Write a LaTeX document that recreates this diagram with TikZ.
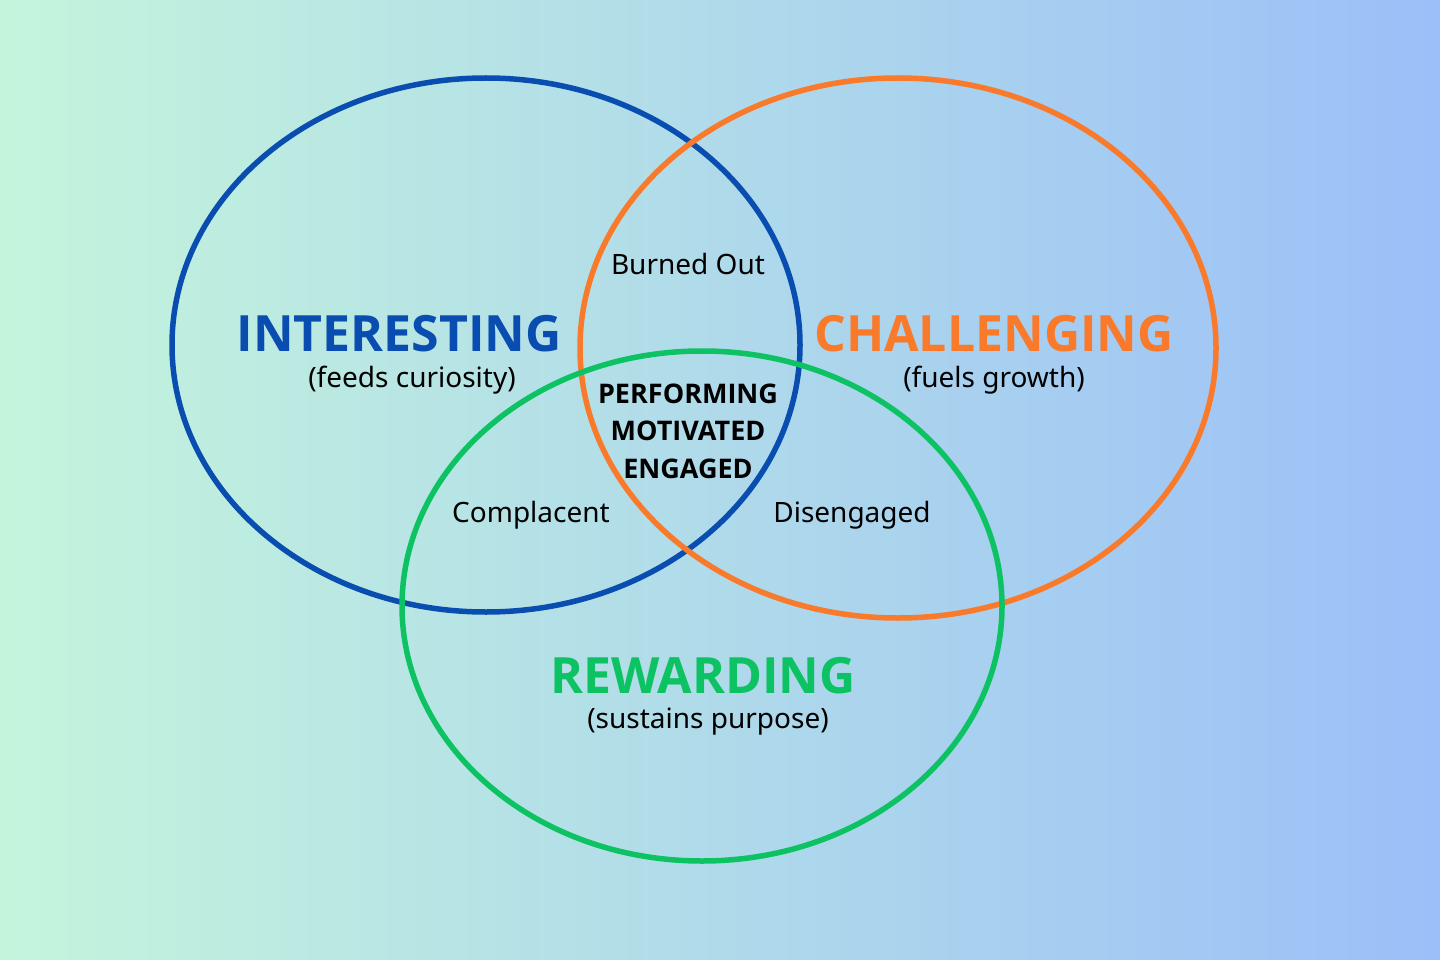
\documentclass[tikz,border=0pt]{standalone}
\usepackage{fontspec}
\setmainfont{Noto Sans}
\newfontfamily\headfont{Open Sans}
\definecolor{bgleft}{HTML}{C4F5DC}
\definecolor{bgright}{HTML}{9BBFF8}
\definecolor{intblue}{HTML}{0A4DB0}
\definecolor{chalorange}{HTML}{F97A2A}
\definecolor{rewgreen}{HTML}{0DC263}
\tikzset{
  ring/.style={line width=5.5pt},
  title/.style={anchor=base,font=\fontsize{50}{60}\selectfont\headfont\bfseries},
  sub/.style={anchor=base,font=\fontsize{28}{30}\selectfont},
  zone/.style={anchor=base,font=\fontsize{28}{30}\selectfont},
}
\begin{document}
\begin{tikzpicture}[x=1pt,y=-1pt]
\shade[left color=bgleft,right color=bgright] (0,0) rectangle (1440,960);
\useasboundingbox (0,0) rectangle (1440,960);

% the three circles
\draw[ring,intblue] (486,345) ellipse [x radius=314pt, y radius=267pt];
\draw[ring,chalorange] (898,348) ellipse [x radius=318pt, y radius=270pt];
\draw[ring,rewgreen] (702,606) ellipse [x radius=300pt, y radius=255pt];

% titles
\node[title,text=intblue] (int) at (399,351) {INTERESTING};
\node[sub] (intsub) at (412,387) {(feeds curiosity)};
\node[title,text=chalorange] (chal) at (994,351) {CHALLENGING};
\node[sub] (chalsub) at (994,387) {(fuels growth)};
\node[title,text=rewgreen] (rew) at (703,693) {REWARDING};
\node[sub] (rewsub) at (708,728) {(sustains purpose)};

% overlaps
\node[zone] (burn) at (688,274) {Burned Out};
\node[zone] (compl) at (531,522) {Complacent};
\node[zone] (diseng) at (852,522) {Disengaged};
\node[align=center,font=\fontsize{27}{37.5}\selectfont\headfont\bfseries] (core) at (688,431)
  {PERFORMING\\MOTIVATED\\ENGAGED};
\end{tikzpicture}
\end{document}
